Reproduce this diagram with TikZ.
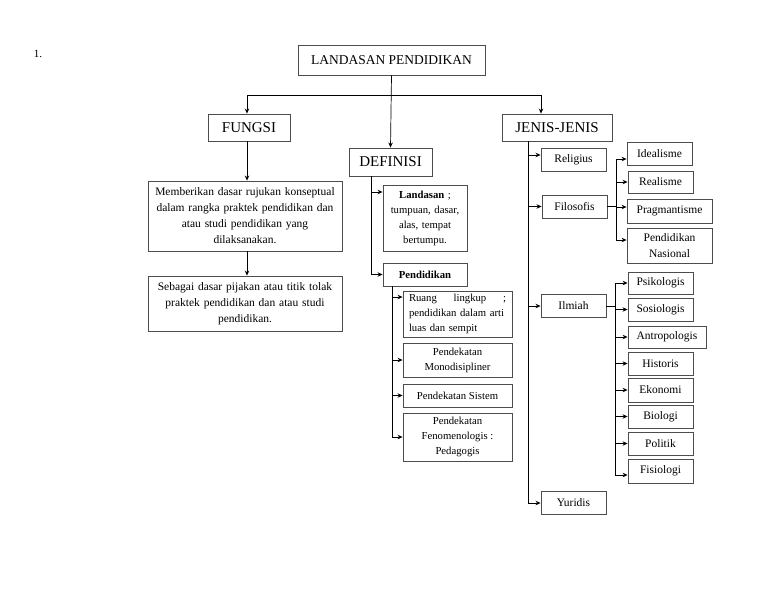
\documentclass[tikz,border=0pt]{standalone}
\usepackage{fontspec}
\setmainfont{Liberation Serif}
\usetikzlibrary{shapes,arrows.meta,positioning}

\begin{document}
\begin{tikzpicture}[
    x=1pt, y=-1pt,
    box/.style={rectangle, draw=black!70, line width=0.9pt, inner sep=0pt, align=center, font=\fontsize{11.5}{16}\selectfont},
    headbox/.style={box, font=\fontsize{15}{18}\selectfont},
    defbox/.style={box, minimum width=109pt, font=\fontsize{10.7}{15}\selectfont},
    subbox/.style={box, minimum width=65pt, minimum height=23pt},
    arrow/.style={-{Stealth[length=5pt, width=4.5pt]}, line width=0.7pt},
    line/.style={line width=0.7pt}
]
\useasboundingbox (0,0) rectangle (768,594);

% Number
\node[font=\fontsize{11}{13}\selectfont] (num) at (38,54) {1.};

% Top box
\node[box, minimum width=187pt, minimum height=30pt, font=\fontsize{13.5}{16}\selectfont] (top) at (391.5,60) {LANDASAN PENDIDIKAN};

% Main branches
\node[headbox, minimum width=82pt, minimum height=27pt] (fungsi) at (249,127.5) {FUNGSI};
\node[headbox, minimum width=83pt, minimum height=28pt] (definisi) at (390.5,162) {DEFINISI};
\node[headbox, minimum width=110pt, minimum height=27pt] (jenis) at (557,127.5) {JENIS-JENIS};

% Fungsi - left
\node[box, minimum width=194pt, minimum height=70pt, text width=186pt] (rujukan) at (245,216) {
    Memberikan dasar rujukan konseptual\\
    dalam rangka praktek pendidikan dan\\
    atau studi pendidikan yang\\
    dilaksanakan.
};
\node[box, minimum width=194pt, minimum height=55pt, text width=186pt] (pijakan) at (245,303.5) {
    Sebagai dasar pijakan atau titik tolak\\
    praktek pendidikan dan atau studi\\
    pendidikan.
};

% Definisi - middle
\node[defbox, minimum width=84pt, minimum height=66pt, text width=80pt] (landasan) at (425,218) {
    \textbf{Landasan} ;\\
    tumpuan, dasar,\\
    alas, tempat\\
    bertumpu.
};
\node[defbox, minimum width=84pt, minimum height=23pt] (pendidikan) at (425,274.5) {\textbf{Pendidikan}};
\node[defbox, minimum height=46pt, text width=97pt, align=left] (ruang) at (457.5,314) {
    Ruang \hfill lingkup \hfill ;\\
    pendidikan dalam arti\\
    luas dan sempit
};
\node[defbox, minimum height=34pt] (mono) at (457.5,360) {Pendekatan\\ Monodisipliner};
\node[defbox, minimum height=23pt] (sistem) at (457.5,395.5) {Pendekatan Sistem};
\node[defbox, minimum height=48pt] (fenom) at (457.5,437) {Pendekatan\\ Fenomenologis :\\ Pedagogis};

% Jenis-jenis - right
\node[subbox] (religius) at (573.5,160) {Religius};
\node[subbox] (filosofis) at (574.5,206.5) {Filosofis};
\node[subbox] (ilmiah) at (573.5,306) {Ilmiah};
\node[subbox] (yuridis) at (573.5,503) {Yuridis};

% Filosofis - children
\node[subbox] (idealisme) at (659.5,153.5) {Idealisme};
\node[subbox, minimum height=22pt] (realisme) at (660.5,182) {Realisme};
\node[subbox, minimum width=85pt, minimum height=24pt] (pragma) at (669.5,211) {Pragmantisme};
\node[subbox, minimum width=85pt, minimum height=35pt] (nasional) at (669.5,245.5) {Pendidikan\\ Nasional};

% Ilmiah - children
\node[subbox, minimum height=22pt] (psikologis) at (660.5,283) {Psikologis};
\node[subbox] (sosiologis) at (660.5,309.5) {Sosiologis};
\node[subbox, minimum width=78pt, minimum height=22pt] (antropologis) at (667,337) {Antropologis};
\node[subbox] (historis) at (660.5,363.5) {Historis};
\node[subbox, minimum height=24pt] (ekonomi) at (660.5,390) {Ekonomi};
\node[subbox] (biologi) at (660.5,416.5) {Biologi};
\node[subbox] (politik) at (660.5,443.5) {Politik};
\node[subbox, minimum height=24pt] (fisiologi) at (660.5,471) {Fisiologi};

% Arrows - top
\draw[arrow] (top.south) -- (definisi.north);
\draw[arrow] ([yshift=-20pt]top.south) -| ([xshift=-2pt]fungsi.north);
\draw[arrow] ([yshift=-20pt]top.south) -| ([xshift=-16pt]jenis.north);

% Arrows - fungsi
\draw[arrow] ([xshift=-2pt]fungsi.south) -- ([xshift=-2pt]fungsi.south |- rujukan.north);
\draw[arrow] ([xshift=2pt]rujukan.south) -- ([xshift=2pt]pijakan.north);

% Arrows - definisi
\coordinate (dtrunk) at ([xshift=-19.5pt]definisi.south);
\draw[arrow] (dtrunk) |- ([yshift=26pt]landasan.west);
\draw[arrow] (dtrunk) |- (pendidikan.west);
\coordinate (ptrunk) at ([xshift=-33pt]pendidikan.south);
\draw[arrow] (ptrunk) |- ([yshift=17pt]ruang.west);
\draw[arrow] (ptrunk) |- (mono.west);
\draw[arrow] (ptrunk) |- (sistem.west);
\draw[arrow] (ptrunk) |- (fenom.west);

% Arrows - jenis
\coordinate (jtrunk) at ([xshift=-29pt]jenis.south);
\draw[arrow] (jtrunk) |- ([yshift=5pt]religius.west);
\draw[arrow] (jtrunk) |- (filosofis.west);
\draw[arrow] (jtrunk) |- (ilmiah.west);
\draw[arrow] (jtrunk) |- (yuridis.west);

% Arrows - filosofis
\coordinate (fbranch) at ([xshift=9pt]filosofis.east);
\draw[line] (filosofis.east) -- (fbranch);
\draw[arrow] (fbranch) |- ([yshift=-5.5pt]idealisme.west);
\draw[arrow] (fbranch) |- (realisme.west);
\draw[arrow] (fbranch) |- ([yshift=4pt]pragma.west);
\draw[arrow] (fbranch) |- ([yshift=5.5pt]nasional.west);

% Arrows - ilmiah
\coordinate (ibranch) at ([xshift=9pt]ilmiah.east);
\draw[line] (ilmiah.east) -- (ibranch);
\draw[arrow] (ibranch) |- (psikologis.west);
\draw[arrow] (ibranch) |- (sosiologis.west);
\draw[arrow] (ibranch) |- (antropologis.west);
\draw[arrow] (ibranch) |- (historis.west);
\draw[arrow] (ibranch) |- (ekonomi.west);
\draw[arrow] (ibranch) |- (biologi.west);
\draw[arrow] (ibranch) |- (politik.west);
\draw[arrow] (ibranch) |- ([yshift=-4pt]fisiologi.west);

\end{tikzpicture}
\end{document}
